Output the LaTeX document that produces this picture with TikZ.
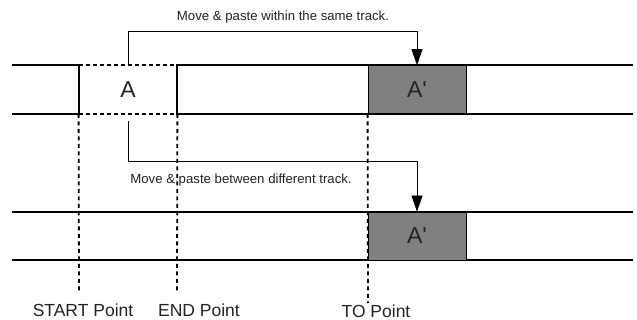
\documentclass[tikz,border=0pt]{standalone}
\usepackage{fontspec}
\setmainfont{Liberation Sans}
\usepackage{tikz}
\usetikzlibrary{positioning, arrows.meta, calc}
\definecolor{ClipGray}{RGB}{128,128,128}
\definecolor{TextDark}{RGB}{35,35,35}

\begin{document}
\begin{tikzpicture}[x=1pt, y=-1pt,
    track/.style={line width=1.8pt},
    cutline/.style={line width=1.6pt, dash pattern=on 4pt off 3pt},
    guide/.style={line width=1.8pt, dash pattern=on 4pt off 3.5pt},
    move/.style={line width=0.7pt, -{Triangle[length=16pt, width=11pt]}},
    clip/.style={draw, line width=0.8pt, fill=ClipGray, minimum width=98pt, minimum height=48pt, inner sep=0pt, font=\fontsize{23}{23}\selectfont, text=TextDark},
    note/.style={font=\fontsize{13.2}{14}\selectfont, text=TextDark},
    marker/.style={font=\fontsize{17.5}{18}\selectfont, text=TextDark}]
\useasboundingbox (0,0) rectangle (637,320);

% Source track with cut region A
\draw[track] (12,65) -- (79,65) -- (79,114) -- (12,114);
\draw[track] (633,65) -- (177,65) -- (177,114) -- (633,114);
\node[clip, draw=none, fill=none] (srcA) at (128,89.5) {A};
\draw[cutline] (srcA.north west) -- (srcA.north east);
\draw[cutline] (srcA.south west) -- (srcA.south east);

% Paste on the same track
\node[clip] (copyA) at (417,89.5) {A\textquotesingle};

% Destination track
\draw[track] (12,212) -- (633,212);
\draw[track] (12,260) -- (633,260);
\node[clip] (copyB) at (417,236) {A\textquotesingle};

% Guide lines
\coordinate (startPt) at (79,293);
\coordinate (endPt) at (177,293);
\coordinate (toPt) at (368,303);
\draw[guide] (srcA.south west) -- (startPt);
\draw[guide] (srcA.south east) -- (endPt);
\draw[guide] (copyA.south west) -- (toPt);

% Move arrows
\draw[move] (srcA.north) -- ++(0,-34) coordinate (upA) -| (copyA.north);
\draw[move] ($(srcA.south)+(0,7)$) -- ++(0,40) coordinate (downA) -| (copyB.north);

% Notes
\node[note] (sameNote) at (283,17) {Move \& paste within the same track.};
\node[note] (diffNote) at (241,180) {Move \& paste between different track.};

% Point labels
\node[marker] (startLbl) at (83,310) {START Point};
\node[marker] (endLbl) at (199,310) {END Point};
\node[marker, inner sep=0pt] (toLbl) at (376,311) {TO Point};
\end{tikzpicture}
\end{document}
